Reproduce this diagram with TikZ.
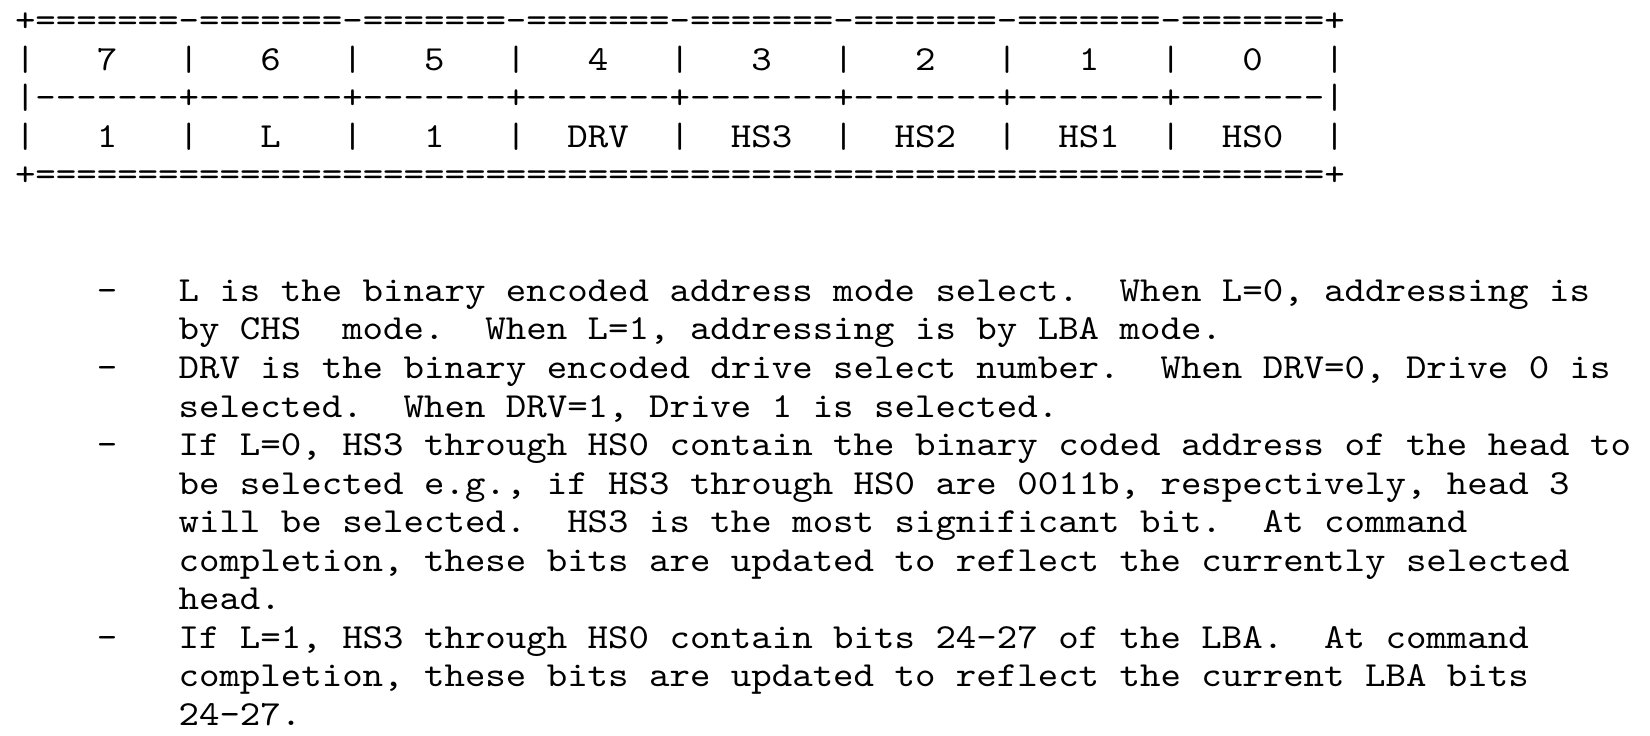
\documentclass[tikz,border=0pt]{standalone}
\usepackage{fontspec}
\newfontfamily\mono{lmmono10-regular}[Extension=.otf,FakeStretch=1.107,Ligatures=TeXOff,WordSpace={1,0,0},PunctuationSpace=WordSpace]
\frenchspacing
\begin{document}
\begin{tikzpicture}[x=1pt,y=-1pt,
  txt/.style={anchor=base west,inner sep=0pt,outer sep=0pt,font=\mono\fontsize{35.2}{38.55}\selectfont,text=black}]
\useasboundingbox (0,0) rectangle (1650,736);
\def\cw{20.45}
\def\xo{15}
\def\bl{31.5}
\def\ls{38.55}
\newcommand\tline[4]{\node[txt] (#1) at ({\xo+#2*\cw},{\bl+#3*\ls}) {#4};}
% table
\tline{t0}{0}{0}{+=======-=======-=======-=======-=======-=======-=======-=======+}
\tline{t1}{0}{1}{|\ \ \ 7\ \ \ |\ \ \ 6\ \ \ |\ \ \ 5\ \ \ |\ \ \ 4\ \ \ |\ \ \ 3\ \ \ |\ \ \ 2\ \ \ |\ \ \ 1\ \ \ |\ \ \ 0\ \ \ |}
\tline{t2}{0}{2}{|-------+-------+-------+-------+-------+-------+-------+-------|}
\tline{t3}{0}{3}{|\ \ \ 1\ \ \ |\ \ \ L\ \ \ |\ \ \ 1\ \ \ |\ \ DRV\ \ |\ \ HS3\ \ |\ \ HS2\ \ |\ \ HS1\ \ |\ \ HS0\ \ |}
\tline{t4}{0}{4}{+===============================================================+}
% bullets
\tline{d1}{4}{7}{-}
\tline{d2}{4}{9}{-}
\tline{d3}{4}{11}{-}
\tline{d4}{4}{16}{-}
% text
\tline{a1}{8}{7}{L is the binary encoded address mode select.\ \ When L=0, addressing is}
\tline{a2}{8}{8}{by CHS\ \ mode.\ \ When L=1, addressing is by LBA mode.}
\tline{b1}{8}{9}{DRV is the binary encoded drive select number.\ \ When DRV=0, Drive 0 is}
\tline{b2}{8}{10}{selected.\ \ When DRV=1, Drive 1 is selected.}
\tline{c1}{8}{11}{If L=0, HS3 through HS0 contain the binary coded address of the head to}
\tline{c2}{8}{12}{be selected e.g., if HS3 through HS0 are 0011b, respectively, head 3}
\tline{c3}{8}{13}{will be selected.\ \ HS3 is the most significant bit.\ \ At command}
\tline{c4}{8}{14}{completion, these bits are updated to reflect the currently selected}
\tline{c5}{8}{15}{head.}
\tline{e1}{8}{16}{If L=1, HS3 through HS0 contain bits 24-27 of the LBA.\ \ At command}
\tline{e2}{8}{17}{completion, these bits are updated to reflect the current LBA bits}
\tline{e3}{8}{18}{24-27.}
\end{tikzpicture}
\end{document}
